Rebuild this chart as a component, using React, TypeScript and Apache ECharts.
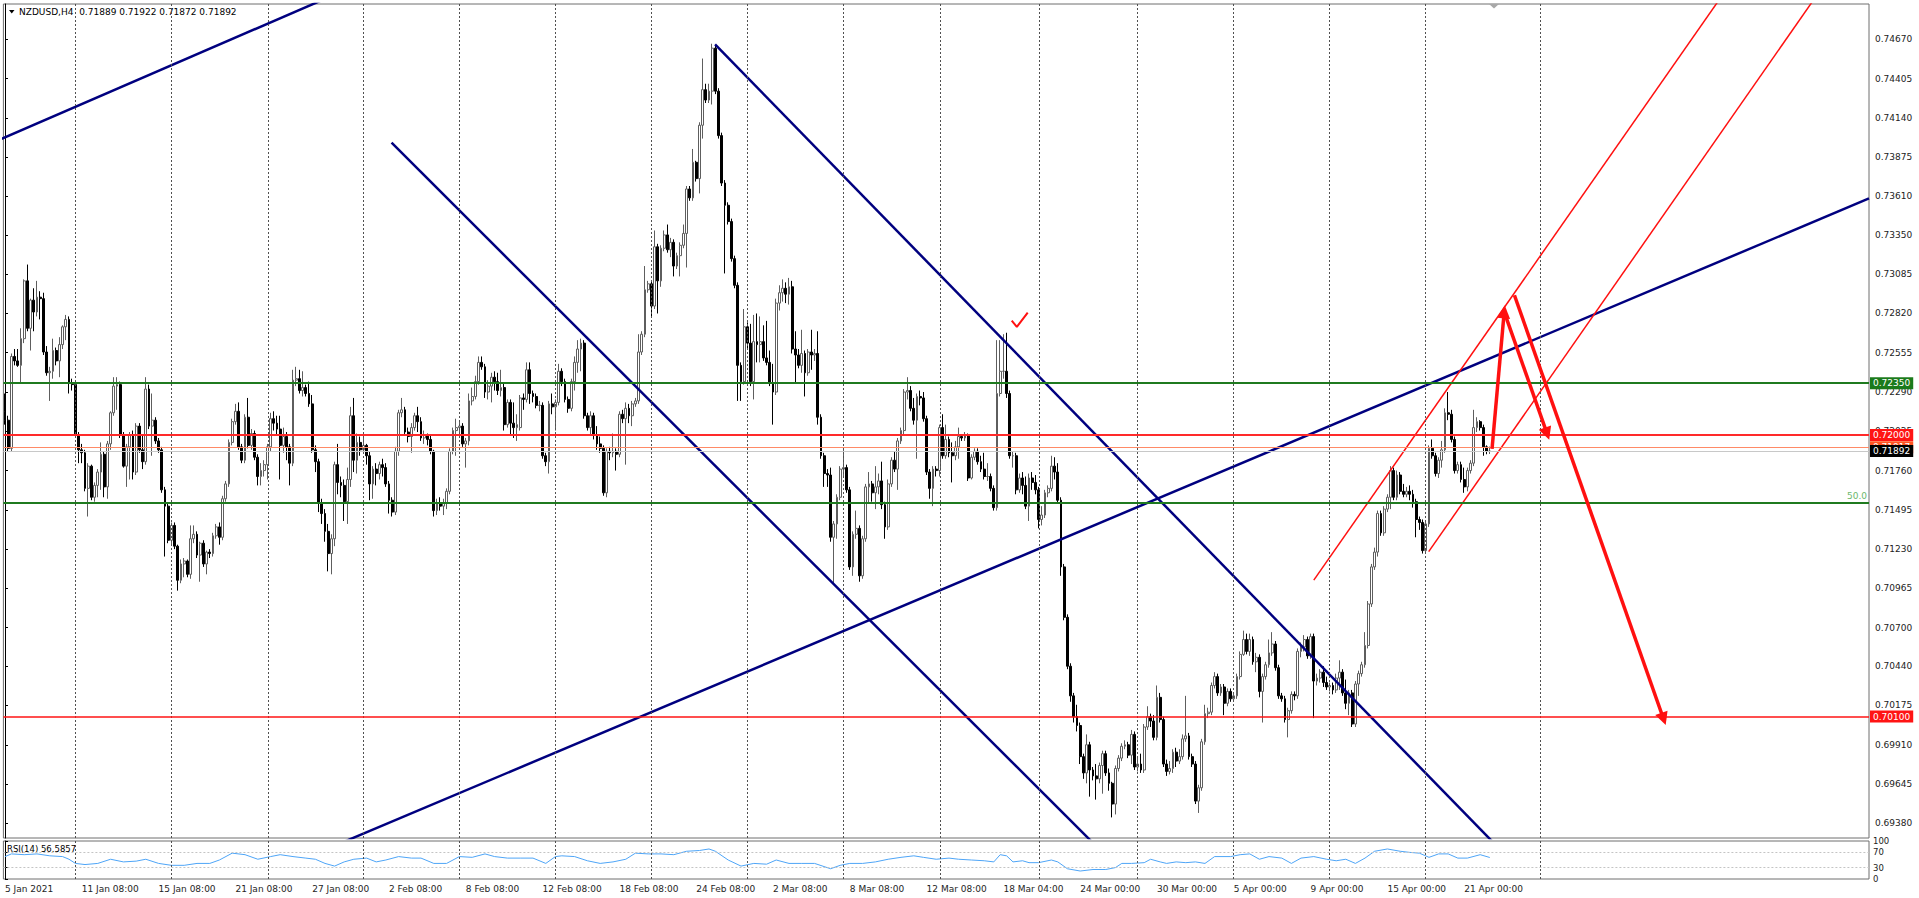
import React, { useEffect, useRef } from "react";
import * as echarts from "echarts";

const FONT = "DejaVu Sans";

// ---------- DATA ----------
// H4 candles NZDUSD, prices in 1/10000 units: [open, close, low, high]
const candles05Jan: number[][] = [
  [7216,7210,7207,7228],[7210,7191,7189,7213],[7191,7253,7189,7255],[7253,7250,7247,7258],[7250,7247,7246,7258],
  [7247,7265,7235,7272],[7265,7304,7262,7305],[7304,7272,7270,7315],[7272,7291,7257,7292],[7291,7283,7270,7299],
  [7283,7293,7280,7304],[7293,7292,7278,7297],[7292,7256,7254,7296],[7256,7242,7240,7260],[7242,7243,7223,7246],
  [7243,7257,7238,7265],[7257,7250,7247,7259],[7250,7261,7239,7266],[7261,7273,7258,7274],[7273,7278,7264,7281],
  [7278,7235,7228,7280],[7235,7234,7230,7238],[7234,7200,7198,7236],[7200,7190,7181,7202],[7190,7188,7181,7194],
  [7188,7164,7162,7190],[7164,7179,7145,7181],[7179,7158,7156,7180],[7158,7166,7155,7168],[7166,7175,7158,7177],
  [7175,7187,7163,7195],[7187,7165,7158,7189],[7165,7194,7157,7196],[7194,7215,7190,7216],[7215,7233,7213,7239],
  [7233,7234,7217,7239],[7234,7200,7198,7236],[7200,7179,7178,7202],[7179,7192,7165,7194],[7192,7200,7170,7202],
  [7200,7175,7170,7203],[7175,7206,7173,7208],[7206,7190,7188,7208],[7190,7182,7177,7200],[7182,7231,7180,7239],
  [7231,7206,7204,7234],[7206,7210,7186,7228],[7210,7196,7194,7212],[7196,7190,7188,7198],[7190,7163,7161,7192],
  [7163,7152,7118,7165],[7152,7129,7127,7154],[7129,7139,7126,7141],[7139,7125,7123,7141],[7125,7102,7095,7126],
  [7102,7113,7100,7116],[7113,7115,7104,7117],[7115,7106,7104,7116],[7106,7130,7103,7139],[7130,7133,7127,7139],
  [7133,7119,7117,7135],[7119,7127,7101,7128],[7127,7113,7111,7129],[7113,7121,7106,7122],[7121,7120,7117,7123],
  [7120,7132,7118,7134],[7132,7138,7130,7140],[7138,7131,7126,7141],[7131,7157,7129,7159],[7157,7167,7155,7169],
  [7167,7195,7165,7197],[7195,7209,7193,7211],[7209,7216,7207,7221],[7216,7192,7190,7222],[7192,7183,7181,7194],
  [7183,7212,7181,7214],[7212,7193,7191,7225],[7193,7201,7190,7204],[7201,7185,7183,7203],[7185,7172,7166,7187],
];
const candles22Jan: number[][] = [
  [7172,7176,7166,7181],[7176,7180,7172,7183],[7180,7192,7170,7194],[7192,7211,7189,7215],[7211,7208,7203,7216],
  [7208,7204,7200,7213],[7204,7193,7170,7213],[7193,7199,7188,7205],[7199,7192,7183,7202],[7192,7181,7166,7194],
  [7181,7237,7179,7244],[7237,7238,7233,7246],[7238,7230,7228,7244],[7230,7232,7226,7243],[7232,7228,7226,7234],
  [7228,7221,7219,7236],[7221,7190,7188,7227],[7190,7182,7175,7193],[7182,7154,7148,7184],[7154,7147,7140,7157],
  [7147,7135,7128,7150],[7135,7120,7108,7140],[7120,7130,7106,7133],[7130,7180,7125,7182],[7180,7168,7160,7194],
  [7168,7166,7158,7172],[7166,7155,7142,7170],[7155,7170,7140,7178],[7170,7213,7165,7219],[7213,7183,7175,7225],
  [7183,7195,7174,7201],[7195,7190,7186,7199],[7190,7193,7188,7202],[7193,7186,7180,7194],[7186,7167,7156,7189],
  [7167,7177,7157,7179],[7177,7174,7166,7181],[7174,7180,7170,7182],[7180,7178,7172,7184],[7178,7167,7165,7181],
  [7167,7156,7147,7169],[7156,7148,7145,7158],[7148,7189,7146,7192],[7189,7215,7186,7217],[7215,7217,7212,7225],
  [7217,7202,7200,7219],[7202,7199,7195,7205],[7199,7205,7188,7208],[7205,7213,7203,7215],[7213,7209,7202,7219],
  [7209,7198,7196,7212],[7198,7200,7194,7203],[7200,7197,7193,7201],[7197,7189,7187,7200],[7189,7149,7145,7190],
  [7149,7154,7146,7157],[7154,7152,7149,7158],[7152,7154,7146,7157],[7154,7162,7150,7164],[7162,7189,7160,7191],
  [7189,7203,7187,7205],[7203,7205,7186,7211],[7205,7206,7200,7210],[7206,7194,7192,7208],[7194,7196,7178,7198],
  [7196,7223,7193,7228],[7223,7226,7220,7232],[7226,7236,7224,7240],[7236,7249,7234,7253],[7249,7246,7244,7253],
  [7246,7229,7225,7248],[7229,7233,7224,7237],[7233,7239,7222,7242],[7239,7236,7230,7243],[7236,7230,7227,7242],
  [7230,7232,7226,7244],[7232,7207,7203,7235],[7207,7222,7205,7224],[7222,7208,7200,7224],[7208,7205,7198,7222],
  [7205,7207,7196,7214],
];
const candles09Feb: number[][] = [
  [7205,7225,7203,7227],[7225,7224,7217,7228],[7224,7244,7222,7249],[7244,7228,7221,7249],[7228,7226,7222,7230],
  [7226,7220,7218,7228],[7220,7220,7216,7223],[7220,7186,7184,7222],[7186,7182,7179,7188],[7182,7221,7174,7223],
  [7221,7219,7214,7228],[7219,7222,7203,7224],[7222,7243,7220,7248],[7243,7236,7233,7245],[7236,7224,7222,7238],
  [7224,7218,7215,7226],[7218,7236,7216,7238],[7236,7249,7230,7253],[7249,7258,7242,7264],[7258,7262,7243,7265],
  [7262,7213,7211,7264],[7213,7205,7203,7215],[7205,7213,7200,7216],[7213,7200,7197,7215],[7200,7194,7190,7206],
  [7194,7191,7188,7199],[7191,7161,7159,7193],[7161,7189,7158,7191],[7189,7188,7183,7192],[7188,7189,7185,7201],
  [7189,7187,7176,7191],[7187,7214,7185,7216],[7214,7211,7208,7217],[7211,7218,7180,7222],[7218,7213,7208,7221],
  [7213,7221,7206,7223],[7221,7223,7219,7225],[7223,7256,7221,7268],[7256,7268,7254,7270],[7268,7298,7266,7314],
  [7298,7302,7296,7304],[7302,7287,7280,7304],[7287,7327,7285,7338],[7327,7304,7282,7329],[7304,7326,7300,7328],
  [7326,7335,7324,7338],[7335,7325,7323,7342],[7325,7330,7320,7333],[7330,7314,7307,7332],[7314,7321,7312,7323],
  [7321,7328,7307,7330],[7328,7336,7326,7342],[7336,7366,7313,7368],[7366,7360,7358,7368],[7360,7384,7358,7393],
  [7384,7373,7371,7385],[7373,7409,7363,7411],[7409,7433,7400,7454],[7433,7426,7424,7437],[7426,7432,7424,7437],
  [7432,7461,7423,7464],[7461,7432,7430,7463],[7432,7402,7400,7434],[7402,7370,7368,7404],[7370,7355,7309,7372],
  [7355,7344,7342,7357],[7344,7319,7317,7346],[7319,7301,7299,7321],[7301,7247,7223,7303],[7247,7236,7223,7249],
  [7236,7273,7234,7285],[7273,7262,7258,7276],[7262,7236,7233,7275],[7236,7263,7224,7281],
];
const candles01Mar: number[][] = [
  [7263,7261,7249,7282],[7261,7263,7249,7280],[7263,7252,7250,7274],[7252,7249,7247,7277],[7249,7235,7233,7257],
  [7235,7229,7207,7248],[7229,7289,7227,7292],[7289,7296,7284,7301],[7296,7299,7290,7305],[7299,7295,7289,7303],
  [7295,7300,7288,7306],[7300,7258,7255,7304],[7258,7254,7235,7270],[7254,7247,7245,7258],[7247,7255,7242,7271],
  [7255,7242,7226,7257],[7242,7256,7240,7258],[7256,7254,7244,7271],[7254,7255,7250,7258],[7255,7212,7207,7270],
  [7212,7186,7184,7214],[7186,7174,7165,7188],[7174,7173,7165,7177],[7173,7131,7128,7178],[7131,7140,7100,7142],
  [7140,7158,7130,7160],[7158,7177,7156,7179],[7177,7178,7172,7191],[7178,7163,7161,7180],[7163,7111,7109,7165],
  [7111,7133,7105,7135],[7133,7137,7130,7149],[7137,7105,7101,7139],[7105,7130,7103,7132],[7130,7165,7128,7167],
  [7165,7167,7154,7175],[7167,7161,7155,7169],[7161,7165,7150,7179],[7165,7169,7160,7174],[7169,7153,7150,7182],
  [7153,7138,7130,7155],[7138,7167,7136,7170],[7167,7183,7165,7185],[7183,7177,7175,7189],[7177,7196,7163,7198],
  [7196,7203,7194,7205],[7203,7229,7200,7231],[7229,7230,7224,7239],[7230,7218,7216,7233],[7218,7210,7207,7225],
  [7210,7226,7184,7228],[7226,7225,7220,7230],[7225,7211,7209,7229],[7211,7175,7173,7213],[7175,7164,7157,7177],
  [7164,7177,7152,7179],[7177,7176,7172,7179],[7176,7205,7172,7207],[7205,7186,7184,7214],[7186,7197,7184,7207],
  [7197,7188,7185,7199],[7188,7186,7168,7195],[7186,7192,7183,7196],[7192,7199,7184,7205],[7199,7198,7196,7200],
  [7198,7200,7196,7202],[7200,7171,7169,7201],[7171,7185,7170,7187],[7185,7189,7183,7191],[7189,7182,7180,7191],
  [7182,7177,7175,7186],[7177,7172,7170,7188],[7172,7172,7169,7181],[7172,7164,7162,7174],[7164,7151,7149,7166],
  [7151,7228,7149,7264],[7228,7243,7226,7264],[7243,7243,7238,7268],[7243,7228,7225,7269],[7228,7186,7184,7230],
  [7186,7186,7178,7189],[7186,7163,7160,7188],[7163,7171,7161,7174],[7171,7166,7160,7175],[7166,7152,7150,7172],
  [7152,7171,7142,7174],[7171,7168,7163,7175],[7168,7163,7160,7173],[7163,7143,7137,7165],[7143,7146,7139,7152],
  [7146,7161,7144,7163],[7161,7164,7158,7166],[7164,7179,7162,7186],[7179,7175,7170,7185],[7175,7156,7154,7181],
  [7156,7111,7105,7158],[7111,7077,7075,7113],[7077,7044,7042,7079],[7044,7024,7020,7046],[7024,7010,7006,7026],
  [7010,7004,7000,7018],[7004,6983,6978,7006],[6983,6972,6968,6985],[6972,6991,6965,6998],
];
const candles23Mar: number[][] = [
  [6991,6974,6956,6993],[6974,6970,6967,6976],[6970,6968,6954,6978],[6968,6977,6965,6979],[6977,6985,6958,6987],
  [6985,6972,6970,6987],[6972,6965,6960,6975],[6965,6951,6942,6966],[6951,6975,6944,6977],[6975,6982,6973,6984],
  [6982,6990,6980,6992],[6990,6991,6988,6994],[6991,6984,6982,6993],[6984,6998,6978,7001],[6998,6976,6974,7000],
  [6976,6978,6973,6983],[6978,6974,6972,6985],[6974,7003,6972,7005],[7003,7010,7001,7017],[7010,7007,7003,7012],
  [7007,6996,6994,7011],[6996,7023,6994,7031],[7023,7008,7006,7026],[7008,6978,6976,7010],[6978,6973,6970,6981],
  [6973,6975,6971,6980],[6975,6986,6972,6988],[6986,6980,6976,6989],[6980,6983,6978,6988],[6983,6995,6981,6998],
  [6995,6997,6993,7024],[6997,6983,6981,6999],[6983,6978,6976,6985],[6978,6953,6951,6980],[6953,6962,6945,6964],
  [6962,6993,6960,6995],[6993,7012,6991,7018],[7012,7013,7009,7016],[7013,7031,7011,7033],[7031,7037,7029,7040],
  [7037,7026,7024,7039],[7026,7030,7024,7032],[7030,7019,7011,7032],[7019,7027,7017,7029],[7027,7022,7020,7029],
  [7022,7024,7020,7026],[7024,7037,7022,7039],[7037,7052,7035,7054],[7052,7062,7051,7068],[7062,7054,7052,7066],
  [7054,7062,7051,7066],[7062,7047,7045,7064],[7047,7050,7040,7053],[7050,7027,7023,7052],[7027,7037,7006,7039],
  [7037,7045,7035,7047],[7045,7053,7043,7062],[7053,7059,7051,7067],[7059,7043,7041,7061],[7043,7024,7022,7045],
  [7024,7022,7020,7026],[7022,7008,7006,7024],[7008,7014,6996,7016],[7014,7025,7012,7027],[7025,7024,7021,7027],
  [7024,7054,7022,7056],[7054,7057,7050,7060],[7057,7062,7054,7065],[7062,7051,7049,7064],[7051,7064,7049,7066],
  [7064,7034,7009,7066],[7034,7036,7031,7039],[7036,7040,7033,7042],[7040,7033,7030,7044],[7033,7030,7028,7037],
  [7030,7031,7027,7033],[7031,7028,7025,7033],[7028,7036,7026,7039],
];
const candles14Apr: number[][] = [
  [7036,7040,7028,7048],[7040,7026,7024,7042],[7026,7019,7015,7035],[7019,7026,7011,7028],[7026,7005,7003,7028],
  [7005,7032,7003,7034],[7032,7039,7024,7041],[7039,7045,7037,7047],[7045,7058,7043,7067],[7058,7086,7056,7088],
  [7086,7111,7084,7113],[7111,7121,7109,7124],[7121,7147,7118,7149],[7147,7134,7132,7149],[7134,7150,7132,7152],
  [7150,7158,7148,7160],[7158,7176,7150,7179],[7176,7158,7156,7178],[7158,7173,7156,7176],[7173,7162,7160,7175],
  [7162,7160,7158,7167],[7160,7162,7158,7165],[7162,7160,7156,7166],[7160,7155,7151,7163],[7155,7143,7131,7157],
  [7143,7141,7136,7145],[7141,7122,7120,7143],[7122,7140,7121,7142],[7140,7191,7138,7193],[7191,7186,7184,7197],
  [7186,7174,7172,7188],[7174,7183,7171,7185],[7183,7190,7178,7196],[7190,7215,7188,7218],[7215,7214,7210,7229],
  [7214,7197,7195,7217],[7197,7176,7174,7199],[7176,7180,7174,7182],[7180,7170,7168,7182],[7170,7165,7161,7178],
  [7165,7176,7162,7178],[7176,7181,7174,7183],[7181,7205,7179,7217],[7205,7209,7202,7212],[7209,7205,7203,7210],
  [7205,7192,7186,7207],[7192,7189,7187,7193],[7188.9,7189.2,7187.2,7192.2],
];

// RSI(14) read from the sub-window: [bar index, value]
const rsiPoints: number[][] = [
  [0,59],[2,66],[6,64],[10,66],[14,61],[18,59],[20,52],[22,41],[25,38],[29,41],[33,52],[37,45],[41,47],[44,52],
  [48,41],[52,36],[56,36],[60,41],[64,41],[67,50],[71,68],[75,64],[79,52],[83,59],[86,64],[90,59],[94,55],[97,52],
  [100,41],[103,34],[106,45],[109,52],[113,55],[116,45],[119,50],[123,59],[127,55],[130,55],[134,41],[138,41],
  [142,59],[146,57],[150,66],[153,59],[157,55],[161,55],[165,55],[169,41],[172,59],[174,61],[178,59],[182,48],
  [186,41],[190,45],[194,52],[197,68],[201,66],[205,66],[209,64],[213,73],[217,75],[220,79],[222,73],[226,50],
  [230,34],[234,41],[238,39],[241,50],[245,41],[249,41],[253,41],[258,27],[261,36],[264,41],[268,41],[272,45],
  [276,52],[280,57],[284,61],[287,57],[291,52],[295,55],[298,52],[302,50],[306,48],[309,45],[311,64],[313,61],
  [315,45],[318,48],[320,43],[323,43],[327,50],[329,45],[332,27],[336,21],[340,25],[344,25],[347,30],[349,41],
  [352,41],[356,43],[358,52],[361,45],[363,41],[366,45],[369,43],[372,45],[375,41],[378,59],[383,59],[386,64],
  [389,66],[392,52],[395,59],[399,55],[402,41],[405,55],[409,59],[413,52],[416,48],[419,52],[422,41],[425,55],
  [428,73],[432,79],[436,73],[439,70],[442,68],[445,57],[448,66],[451,66],[454,55],[457,55],[461,64],[464,56.59],
];

const timeLabels: string[] = [
  "5 Jan 2021","11 Jan 08:00","15 Jan 08:00","21 Jan 08:00","27 Jan 08:00","2 Feb 08:00","8 Feb 08:00",
  "12 Feb 08:00","18 Feb 08:00","24 Feb 08:00","2 Mar 08:00","8 Mar 08:00","12 Mar 08:00","18 Mar 04:00",
  "24 Mar 00:00","30 Mar 00:00","5 Apr 00:00","9 Apr 00:00","15 Apr 00:00","21 Apr 00:00",
];
const priceTicks: number[] = [
  0.7467,0.74405,0.7414,0.73875,0.7361,0.7335,0.73085,0.7282,0.72555,0.7229,0.72025,
  0.7176,0.71495,0.7123,0.70965,0.707,0.7044,0.70175,0.6991,0.69645,0.6938,
];
const rsiTicks: number[] = [0, 30, 70, 100];
const rsiLevels: number[] = [70, 30];
// weekly separators (bar positions)
const weekSeparators: number[] = [21.9,51.9,82.2,111.9,141.9,171.9,201.9,231.9,261.9,292.2,323.1,353.8,383.9,413.9,443.9,479.9];

const symbolTitle = "NZDUSD,H4";
const lastOHLC: string[] = ["0.71889", "0.71922", "0.71872", "0.71892"];
const rsiTitle = "RSI(14) 56.5857";

const levelResistance = 0.7235;
const levelPivot = 0.72;
const levelFib50 = 0.71543;
const fibLabel = "50.0";
const levelTarget = 0.701;
const askPrice = 0.71917;
const bidPrice = 0.71892;

// drawing objects: [bar, price(1/10000)] anchors
const navyTrendLines: number[][][] = [
  [[-2, 7399.0], [110, 7503.6]],
  [[120.8, 7397.2], [345, 6914]],
  [[221.9, 7463.6], [470, 6914.2]],
  [[105, 6924.7], [582.5, 7359.6]],
];
const redChannelLines: number[][][] = [
  [[409, 7102.1], [540, 7507]],
  [[444.9, 7121.3], [570, 7508.5]],
];
const redArrows: number[][][] = [
  [[464.7, 7190.7], [468.5, 7283.1]],
  [[468.5, 7283.1], [481.9, 7200.9]],
  [[471.7, 7294.3], [518.3, 7008.4]],
];
const checkMark: number[][] = [[314.6, 7277.1], [316.2, 7272.9], [319.6, 7282.5]];

const priceMin = 0.69281;
const priceMax = 0.74908;
const SLOTS = 583;

// ---------- OPTION ----------
function buildOption() {
  const allCandles = [
    ...candles05Jan, ...candles22Jan, ...candles09Feb, ...candles01Mar, ...candles23Mar, ...candles14Apr,
  ];
  const candleData = allCandles.map((c) => c.map((v) => v / 10000));
  const cats = Array.from({ length: SLOTS }, (_, i) =>
    i % 24 === 0 && i / 24 < timeLabels.length ? timeLabels[i / 24] : ""
  );
  const toXY = (pts: number[][]) => pts.map(([b, v]) => [b, v / 10000]);

  const GL = 3.4;
  const GR = 50;

  const boxLabel = (bg: string, v: number) => ({
    show: true,
    position: "end",
    formatter: v.toFixed(5),
    backgroundColor: bg,
    color: "#ffffff",
    padding: [1, 3, 0, 3],
    distance: 1,
    fontSize: 9,
    lineHeight: 11,
    fontFamily: FONT,
  });

  const series: any[] = [];

  // weekly separators (main)
  series.push({
    type: "line",
    xAxisIndex: 1,
    yAxisIndex: 0,
    data: [[0, priceMin]],
    symbol: "none",
    lineStyle: { opacity: 0 },
    silent: true,
    z: 1,
    markLine: {
      silent: true,
      precision: 6,
      symbol: ["none", "none"],
      label: { show: false },
      lineStyle: { color: "#505050", type: [2, 2], width: 1 },
      data: weekSeparators.map((v) => ({ xAxis: v })),
    },
  });

  series.push({
    type: "candlestick",
    xAxisIndex: 0,
    yAxisIndex: 0,
    data: candleData,
    barWidth: 2.2,
    z: 2,
    silent: true,
    itemStyle: {
      color: "#ffffff",
      color0: "#000000",
      borderColor: "#5e5e5e",
      borderColor0: "#000000",
      borderWidth: 1,
    },
  });

  // horizontal levels
  series.push({
    type: "line",
    xAxisIndex: 1,
    yAxisIndex: 0,
    data: [[0, priceMin]],
    symbol: "none",
    lineStyle: { opacity: 0 },
    silent: true,
    z: 3,
    markLine: {
      silent: true,
      precision: 6,
      symbol: ["none", "none"],
      data: [
        { yAxis: levelResistance, lineStyle: { color: "#1f7a1f", width: 2, type: "solid" }, label: boxLabel("#1b7a1b", levelResistance) },
        { yAxis: levelPivot, lineStyle: { color: "#ff2a2a", width: 2, type: "solid" }, label: boxLabel("#ff1414", levelPivot) },
        {
          yAxis: levelFib50,
          lineStyle: { color: "#1f7a1f", width: 2, type: "solid" },
          label: { show: true, position: "insideEndTop", formatter: fibLabel, color: "#6cb86c", fontSize: 9, fontFamily: FONT, distance: 2 },
        },
        { yAxis: levelTarget, lineStyle: { color: "#ff1414", width: 1.5, type: "solid" }, label: boxLabel("#ff1414", levelTarget) },
        { yAxis: askPrice, lineStyle: { color: "#ff8a66", width: 1, type: "solid" }, label: boxLabel("#ff5522", askPrice) },
        { yAxis: bidPrice, lineStyle: { color: "#c8c8c8", width: 1, type: "solid" }, label: boxLabel("#000000", bidPrice) },
      ],
    },
  });

  navyTrendLines.forEach((ln) => {
    series.push({
      type: "line",
      xAxisIndex: 1,
      yAxisIndex: 0,
      data: toXY(ln),
      symbol: "none",
      clip: true,
      silent: true,
      z: 4,
      lineStyle: { color: "#00007f", width: 2.5 },
    });
  });
  redChannelLines.forEach((ln) => {
    series.push({
      type: "line",
      xAxisIndex: 1,
      yAxisIndex: 0,
      data: toXY(ln),
      symbol: "none",
      clip: true,
      silent: true,
      z: 4,
      lineStyle: { color: "#ff1010", width: 1.5 },
    });
  });

  series.push({
    type: "line",
    xAxisIndex: 1,
    yAxisIndex: 0,
    data: [[0, priceMin]],
    symbol: "none",
    lineStyle: { opacity: 0 },
    silent: true,
    z: 5,
    markLine: {
      silent: true,
      precision: 6,
      symbol: ["none", "triangle"],
      symbolSize: 13,
      label: { show: false },
      lineStyle: { color: "#ff1010", width: 3.5, type: "solid" },
      itemStyle: { color: "#ff1010" },
      data: redArrows.map((a) => [
        { coord: [a[0][0], a[0][1] / 10000] },
        { coord: [a[1][0], a[1][1] / 10000] },
      ]),
    },
  });

  series.push({
    type: "line",
    xAxisIndex: 1,
    yAxisIndex: 0,
    data: toXY(checkMark),
    symbol: "none",
    silent: true,
    z: 5,
    lineStyle: { color: "#ff1010", width: 2 },
  });

  // RSI
  series.push({
    type: "line",
    xAxisIndex: 3,
    yAxisIndex: 1,
    data: rsiPoints,
    symbol: "none",
    silent: true,
    z: 3,
    lineStyle: { color: "#4ea5f7", width: 1 },
    markLine: {
      silent: true,
      precision: 6,
      symbol: ["none", "none"],
      label: { show: false },
      data: [
        ...rsiLevels.map((v) => ({ yAxis: v, lineStyle: { color: "#c4c4c4", type: [2, 2], width: 1 } })),
        ...weekSeparators.map((v) => ({ xAxis: v, lineStyle: { color: "#505050", type: [2, 2], width: 1 } })),
      ],
    },
  });

  return {
    animation: false,
    backgroundColor: "#ffffff",
    textStyle: { fontFamily: FONT },
    grid: [
      { left: GL, right: GR, top: 4, height: 834, show: true, borderColor: "#6e6e6e", borderWidth: 1, backgroundColor: "transparent" },
      { left: GL, right: GR, top: 841, height: 38, show: true, borderColor: "#6e6e6e", borderWidth: 1, backgroundColor: "transparent" },
    ],
    xAxis: [
      { type: "category", gridIndex: 0, data: cats, boundaryGap: true, show: false },
      { type: "value", gridIndex: 0, min: -0.5, max: SLOTS - 0.5, show: false },
      {
        type: "category",
        gridIndex: 1,
        data: cats,
        boundaryGap: true,
        axisLine: { show: false },
        axisTick: { show: false },
        splitLine: { show: false },
        axisLabel: {
          interval: (i: number) => i % 24 === 0,
          align: "left",
          margin: 5,
          fontSize: 9,
          color: "#1e1e1e",
          fontFamily: FONT,
        },
      },
      { type: "value", gridIndex: 1, min: -0.5, max: SLOTS - 0.5, show: false },
    ],
    yAxis: [
      {
        type: "value",
        gridIndex: 0,
        position: "right",
        min: priceMin,
        max: priceMax,
        axisLine: { show: true, lineStyle: { color: "#000000" } },
        axisTick: { show: true, customValues: priceTicks, length: 3, lineStyle: { color: "#000000" } },
        axisLabel: {
          customValues: priceTicks,
          formatter: (v: number) => v.toFixed(5),
          margin: 6,
          fontSize: 9,
          color: "#222222",
          fontFamily: FONT,
        },
        splitLine: { show: false },
      },
      {
        type: "value",
        gridIndex: 1,
        position: "right",
        min: 0,
        max: 100,
        axisLine: { show: true, lineStyle: { color: "#000000" } },
        axisTick: { show: true, customValues: rsiTicks, length: 3, lineStyle: { color: "#000000" } },
        axisLabel: { customValues: rsiTicks, margin: 4, fontSize: 8.5, color: "#222222", fontFamily: FONT },
        splitLine: { show: false },
      },
    ],
    graphic: [
      { type: "polygon", shape: { points: [[9, 10], [14.5, 10], [11.75, 13.5]] }, style: { fill: "#000000" }, silent: true },
      {
        type: "text",
        x: 19,
        y: 12,
        silent: true,
        style: {
          text: symbolTitle + "  " + lastOHLC.join(" "),
          fill: "#000000",
          fontSize: 9,
          fontFamily: FONT,
          verticalAlign: "middle",
        },
      },
      {
        type: "text",
        x: 7,
        y: 849,
        silent: true,
        style: { text: rsiTitle, fill: "#000000", fontSize: 8.5, fontFamily: FONT, verticalAlign: "middle" },
      },
      { type: "polygon", shape: { points: [[1489, 4], [1499, 4], [1494, 8.5]] }, style: { fill: "#a8a8a8" }, silent: true },
    ],
    series,
  };
}

export default function App() {
  const ref = useRef<HTMLDivElement>(null);
  useEffect(() => {
    document.body.style.margin = "0";
    if (!ref.current) return;
    const chart = echarts.init(ref.current, null, { renderer: "svg" });
    chart.setOption(buildOption() as any);
    return () => chart.dispose();
  }, []);
  return <div ref={ref} style={{ width: 1919, height: 898, background: "#ffffff" }} />;
}
